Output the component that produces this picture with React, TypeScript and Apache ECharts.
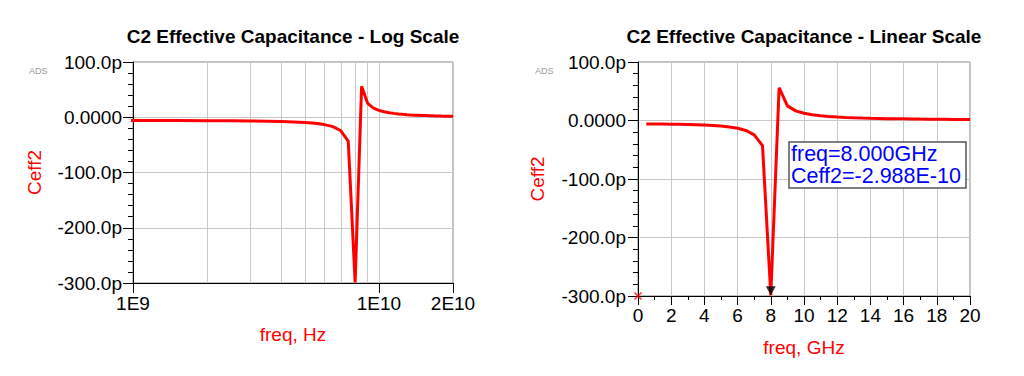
import React, { useEffect, useRef } from "react";
import * as echarts from "echarts";

// Frequency samples (GHz) and effective capacitance Ceff2 (pF)
const freqGHz = [
  0.5, 1.0, 1.5, 2.0, 2.5, 3.0, 3.5, 4.0, 4.5, 5.0,
  5.5, 6.0, 6.5, 7.0, 7.5, 8.0, 8.5, 9.0, 9.5, 10.0,
  10.5, 11.0, 11.5, 12.0, 12.5, 13.0, 13.5, 14.0, 14.5, 15.0,
  15.5, 16.0, 16.5, 17.0, 17.5, 18.0, 18.5, 19.0, 19.5, 20.0,
];
const ceff2pF = [
  -6.0, -6.0, -6.1, -6.2, -6.4, -6.7, -7.1, -7.7, -8.5, -9.5,
  -11.0, -13.3, -17.0, -24.5, -43.0, -298.8, 56.0, 25.0, 16.5, 12.5,
  10.0, 8.3, 7.0, 6.0, 5.3, 4.7, 4.2, 3.8, 3.5, 3.2,
  3.0, 2.8, 2.6, 2.4, 2.3, 2.1, 2.0, 1.9, 1.8, 1.7,
];

// Log-scale intermediate grid lines (Hz)
const logMinorGridHz = [2e9, 3e9, 4e9, 5e9, 6e9, 7e9, 8e9, 9e9];

// Marker
const markerFreqGHz = 8.0;
const markerCeff2pF = -298.8;
const markerReadout = ["freq=8.000GHz", "Ceff2=-2.988E-10"];
const originMarker = [0, -300];

const titles = [
  "C2 Effective Capacitance - Log Scale",
  "C2 Effective Capacitance - Linear Scale",
];
const xNames = ["freq, Hz", "freq, GHz"];
const yName = "Ceff2";
const watermark = "ADS";

const FONT = "'Liberation Sans', Arial, Helvetica, sans-serif";

export default function App() {
  const ref = useRef<HTMLDivElement>(null);

  useEffect(() => {
    const chart = echarts.init(ref.current!, null, { renderer: "svg" });

    const hzData = freqGHz.map((f, i) => [f * 1e9, ceff2pF[i]]);
    const ghzData = freqGHz.map((f, i) => [f, ceff2pF[i]]);

    const yFmt = (v: number) => (v === 0 ? "0.0000" : v.toFixed(1) + "p");
    const expFmt = (v: number) => {
      const e = Math.floor(Math.log10(v) + 1e-6);
      const m = Math.round(v / Math.pow(10, e));
      return `${m}E${e}`;
    };

    const gridLine = { show: true, lineStyle: { color: "#c8c8c8", width: 1 } };
    const axisLine = { show: true, onZero: false, lineStyle: { color: "#000", width: 1 } };
    const labelStyle = { color: "#000", fontSize: 19, fontFamily: FONT };
    const nameStyle = { color: "#ff0000", fontSize: 19, fontFamily: FONT };
    const titleStyle = { color: "#000", fontSize: 19, fontWeight: "bold" as const, fontFamily: FONT };

    const yAxis = (gridIndex: number, margin: number, nameGap: number) => ({
      type: "value",
      gridIndex,
      min: -300,
      max: 100,
      interval: 100,
      name: yName,
      nameLocation: "middle",
      nameGap,
      nameTextStyle: nameStyle,
      axisLine,
      axisTick: { show: true, length: 10, lineStyle: { color: "#000" } },
      minorTick: { show: true, splitNumber: 5, length: 5, lineStyle: { color: "#000" } },
      axisLabel: { ...labelStyle, margin, formatter: yFmt },
      splitLine: gridLine,
    });

    const lineStyle = { color: "#ff0000", width: 3 };

    chart.setOption({
      animation: false,
      title: [
        { text: titles[0], left: 293, top: 27, textAlign: "center", textStyle: titleStyle, padding: 0 },
        { text: titles[1], left: 804, top: 27, textAlign: "center", textStyle: titleStyle, padding: 0 },
      ],
      grid: [
        { left: 133, top: 62, width: 320, height: 221, show: true, borderColor: "#808080", borderWidth: 1, backgroundColor: "transparent" },
        { left: 638, top: 62, width: 332, height: 234, show: true, borderColor: "#808080", borderWidth: 1, backgroundColor: "transparent" },
      ],
      xAxis: [
        {
          type: "log",
          gridIndex: 0,
          logBase: 10,
          min: 1e9,
          max: 2e10,
          name: xNames[0],
          nameLocation: "middle",
          nameGap: 42,
          nameTextStyle: nameStyle,
          axisLine,
          axisTick: { show: true, length: 10, lineStyle: { color: "#000" } },
          axisLabel: { ...labelStyle, margin: 11, formatter: expFmt, showMinLabel: true, showMaxLabel: true },
          splitLine: gridLine,
        },
        {
          type: "value",
          gridIndex: 1,
          min: 0,
          max: 20,
          interval: 2,
          name: xNames[1],
          nameLocation: "middle",
          nameGap: 42,
          nameTextStyle: nameStyle,
          axisLine,
          axisTick: { show: true, length: 9, lineStyle: { color: "#000" } },
          minorTick: { show: true, splitNumber: 2, length: 4, lineStyle: { color: "#000" } },
          axisLabel: { ...labelStyle, margin: 10 },
          splitLine: gridLine,
        },
      ],
      yAxis: [yAxis(0, 11, 89), yAxis(1, 12, 91)],
      series: [
        {
          type: "line",
          xAxisIndex: 0,
          yAxisIndex: 0,
          data: hzData,
          showSymbol: false,
          symbol: "none",
          lineStyle,
          clip: true,
          z: 3,
          markLine: {
            silent: true,
            symbol: "none",
            z: 1,
            label: { show: false },
            lineStyle: { color: "#c8c8c8", width: 1, type: "solid" },
            data: logMinorGridHz.map((v) => ({ xAxis: v })),
          },
        },
        {
          type: "line",
          xAxisIndex: 1,
          yAxisIndex: 1,
          data: ghzData,
          showSymbol: false,
          symbol: "none",
          lineStyle,
          clip: true,
          z: 3,
        },
        {
          type: "scatter",
          xAxisIndex: 1,
          yAxisIndex: 1,
          data: [[markerFreqGHz, markerCeff2pF]],
          symbol: "triangle",
          symbolRotate: 180,
          symbolSize: [10, 9],
          symbolOffset: [0, -4.5],
          itemStyle: { color: "#000" },
          z: 5,
          clip: false,
        },
        {
          type: "scatter",
          xAxisIndex: 1,
          yAxisIndex: 1,
          data: [originMarker],
          symbol:
            "path://M0,1.4L1.4,0L5,3.6L8.6,0L10,1.4L6.4,5L10,8.6L8.6,10L5,6.4L1.4,10L0,8.6L3.6,5Z",
          symbolSize: 8,
          itemStyle: { color: "#ff0000" },
          z: 5,
          clip: false,
        },
      ],
      graphic: [
        { type: "text", x: 29, y: 66, style: { text: watermark, fill: "#9a9a9a", fontSize: 9, fontFamily: FONT } },
        { type: "text", x: 535, y: 66, style: { text: watermark, fill: "#9a9a9a", fontSize: 9, fontFamily: FONT } },
        {
          type: "rect",
          z: 100,
          shape: { x: 789, y: 142, width: 177, height: 46 },
          style: { fill: "#ffffff", stroke: "#555555", lineWidth: 1.5 },
        },
        {
          type: "text",
          z: 101,
          x: 791,
          y: 143,
          style: {
            text: markerReadout.join("\n"),
            fill: "#0000ff",
            fontSize: 21.5,
            lineHeight: 22,
            fontFamily: FONT,
          },
        },
      ],
    });

    return () => chart.dispose();
  }, []);

  return (
    <div
      ref={ref}
      style={{ position: "fixed", left: 0, top: 0, width: 1024, height: 376, background: "#fff" }}
    />
  );
}
